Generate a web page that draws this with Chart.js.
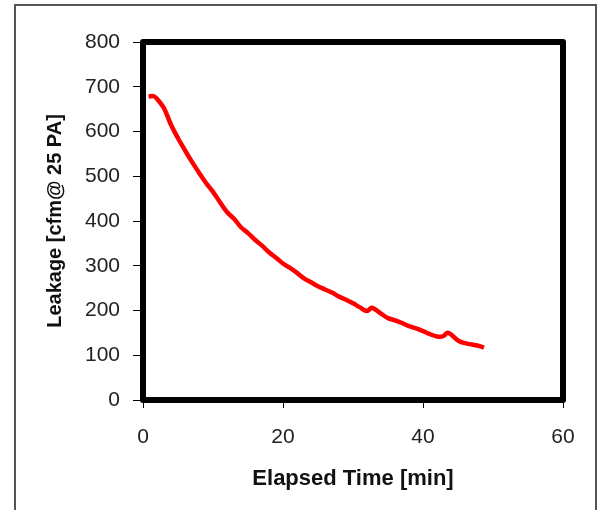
<!DOCTYPE html>
<html>
<head>
<meta charset="utf-8">
<script src="https://cdn.jsdelivr.net/npm/chart.js@4"></script>
<style>
  html, body { margin: 0; padding: 0; background: #fff; }
  #wrap { width: 600px; height: 510px; }
</style>
</head>
<body>
<div id="wrap"><canvas id="myChart" width="600" height="510"></canvas></div>
<script>
const times = [0.8, 1.5, 2, 3, 4, 5, 6, 7, 8, 9, 10, 11, 12, 13, 14, 15, 16, 17, 18, 19, 20,
  21, 22, 23, 24, 25, 26, 27, 28, 29, 30, 31, 32, 32.7, 34, 35, 36, 37, 38, 39, 40,
  41, 42, 42.8, 43.6, 45, 46, 47, 48, 48.7];
const leakage = [678, 679, 673, 652, 615, 585, 558, 532, 508, 485, 465, 442, 420, 405, 386, 373, 358, 345, 330, 318, 305,
  295, 284, 272, 263, 254, 247, 240, 231, 224, 216, 207, 199, 206, 193, 183, 178, 172, 165, 160, 154,
  147, 142, 142, 150, 133, 127, 124, 121, 117];
const xTicks = [0, 20, 40, 60];
const yTicks = [0, 100, 200, 300, 400, 500, 600, 700, 800];

const frame = {
  id: "frame",
  beforeDraw(chart) {
    const c = chart.ctx;
    c.save();
    c.fillStyle = "#fff";
    c.fillRect(0, 0, chart.width, chart.height);
    c.strokeStyle = "#555";
    c.lineWidth = 2;
    c.strokeRect(15, 5, 581, 530);
    c.restore();
  },
  afterDatasetsDraw(chart) {
    const a = chart.chartArea;
    const c = chart.ctx;
    c.save();
    c.strokeStyle = "#000";
    c.lineWidth = 6;
    c.lineJoin = "round";
    c.strokeRect(a.left, a.top, a.right - a.left, a.bottom - a.top);
    c.restore();
  }
};

const ctx = document.getElementById("myChart").getContext("2d");
const chartOptions = {
  type: "line",
  data: {
    datasets: [
      {
        label: "Leakage",
        data: times.map((t, i) => ({ x: t, y: leakage[i] })),
        borderColor: "#ff0000",
        backgroundColor: "#ff0000",
        borderWidth: 4.5,
        pointRadius: 0,
        tension: 0.35,
        fill: false,
      },
    ],
  },
  options: {
    responsive: false,
    animation: false,
    layout: { padding: { top: 42, right: 37, left: 0, bottom: 0 } },
    plugins: { legend: { display: false }, tooltip: { enabled: false } },
    scales: {
      x: {
        type: "linear",
        min: 0,
        max: 60,
        afterFit: (s) => { s.height = 110; },
        afterBuildTicks: (s) => { s.ticks = xTicks.map((v) => ({ value: v })); },
        grid: { drawOnChartArea: false, drawTicks: true, tickLength: 8, color: "#000" },
        border: { display: false },
        ticks: { color: "#222", font: { family: "Liberation Sans, Arial", size: 21 }, padding: 17, maxRotation: 0 },
        title: {
          display: true,
          text: "Elapsed Time [min]",
          color: "#111",
          font: { family: "Liberation Sans, Arial", size: 22, weight: "bold" },
          padding: { top: 0, bottom: 18 },
        },
      },
      y: {
        min: 0,
        max: 800,
        afterFit: (s) => { s.width = 143; },
        afterBuildTicks: (s) => { s.ticks = yTicks.map((v) => ({ value: v })); },
        grid: { drawOnChartArea: false, drawTicks: true, tickLength: 10, color: "#000" },
        border: { display: false },
        ticks: { color: "#222", font: { family: "Liberation Sans, Arial", size: 21 }, padding: 13 },
        title: {
          display: true,
          text: "Leakage [cfm@ 25 PA]",
          color: "#111",
          font: { family: "Liberation Sans, Arial", size: 20, weight: "bold" },
          padding: { top: 43, bottom: 0 },
        },
      },
    },
  },
  plugins: [frame],
};

new Chart(ctx, chartOptions);
</script>
</body>
</html>
